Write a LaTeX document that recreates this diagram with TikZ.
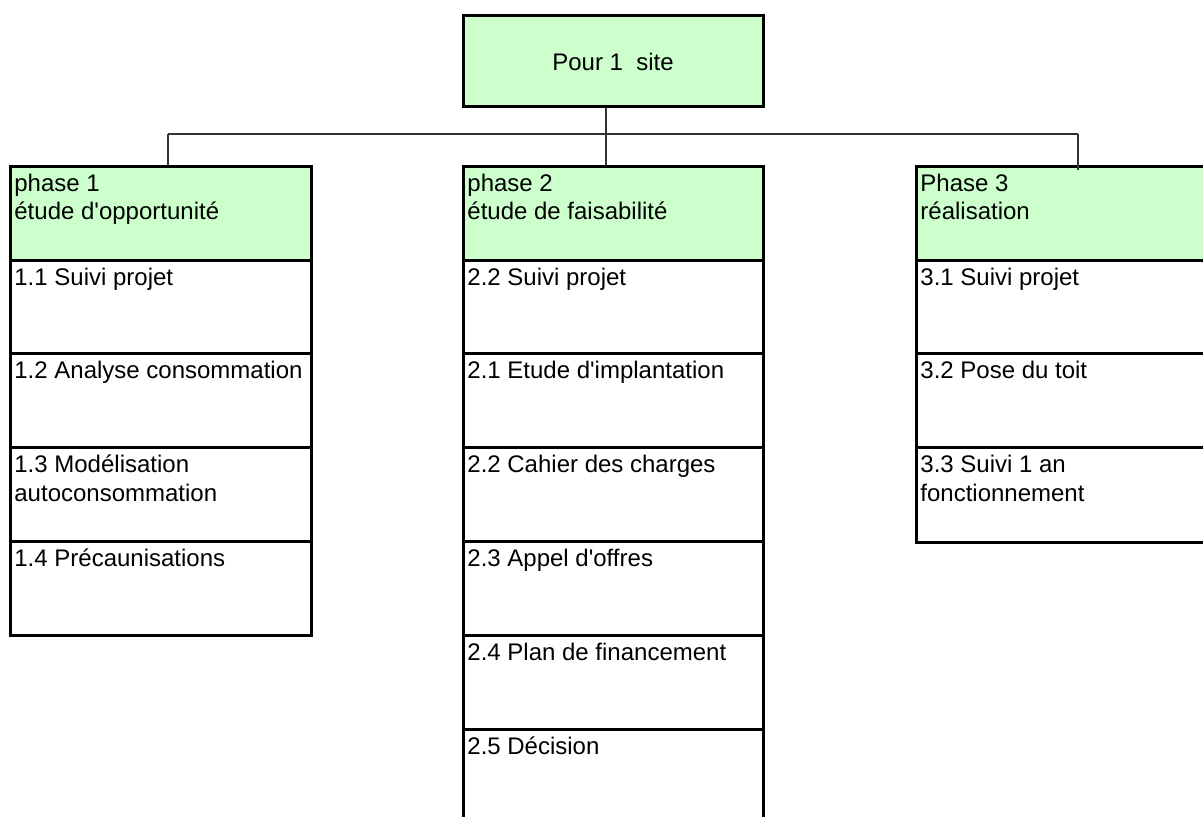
\documentclass[tikz,border=0pt]{standalone}
\usepackage{fontspec}
\newfontfamily\arialfont{Liberation Sans}
\usetikzlibrary{fit,calc}
\definecolor{hdr}{HTML}{CCFFCC}
\definecolor{conn}{HTML}{333333}
\begin{document}
\begin{tikzpicture}[x=0.5pt,y=-0.5pt,
  cell/.style={draw=black, line width=1.5pt, inner sep=0pt, fill=white},
  head/.style={cell, fill=hdr},
  txt/.style={anchor=base west, align=left, inner xsep=1.5pt, inner ysep=0pt,
    font=\arialfont\fontsize{12pt}{14pt}\selectfont, text=black},
  link/.style={draw=conn, line width=0.75pt}]
\useasboundingbox (0,0) rectangle (1203,817);
\clip (0,0) rectangle (1203,817);

% top box
\node[head, fit={(463,16)(763,107)}] (top) {};
\node[anchor=center, inner sep=0pt, font=\arialfont\fontsize{12pt}{14pt}\selectfont] (toptxt) at (top.center) {Pour 1~ site};

% column 1
\node[head, fit={(10,167)(311,261)}] (h1) {};
\node[cell, fit={(10,261)(311,354)}] (a1) {};
\node[cell, fit={(10,354)(311,448)}] (a2) {};
\node[cell, fit={(10,448)(311,541)}] (a3) {};
\node[cell, fit={(10,541)(311,635)}] (a4) {};
\node[txt] (h1t) at (11,220) {phase 1\\étude d'opportunité};
\node[txt] (a1t) at (11,286) {1.1 Suivi projet};
\node[txt] (a2t) at (11,379) {1.2 Analyse consommation};
\node[txt] (a3t) at (11,501) {1.3 Modélisation\\autoconsommation};
\node[txt] (a4t) at (11,566) {1.4 Précaunisations};

% column 2
\node[head, fit={(463,167)(763,261)}] (h2) {};
\node[cell, fit={(463,261)(763,354)}] (b1) {};
\node[cell, fit={(463,354)(763,448)}] (b2) {};
\node[cell, fit={(463,448)(763,541)}] (b3) {};
\node[cell, fit={(463,541)(763,635)}] (b4) {};
\node[cell, fit={(463,635)(763,729)}] (b5) {};
\node[cell, fit={(463,729)(763,840)}] (b6) {};
\node[txt] (h2t) at (464,220) {phase 2\\étude de faisabilité};
\node[txt] (b1t) at (464,286) {2.2 Suivi projet};
\node[txt] (b2t) at (464,379) {2.1 Etude d'implantation};
\node[txt] (b3t) at (464,473) {2.2 Cahier des charges};
\node[txt] (b4t) at (464,566) {2.3 Appel d'offres};
\node[txt] (b5t) at (464,660) {2.4 Plan de financement};
\node[txt] (b6t) at (464,754) {2.5 Décision};

% column 3
\node[head, fit={(916,167)(1220,261)}] (h3) {};
\node[cell, fit={(916,261)(1220,354)}] (c1) {};
\node[cell, fit={(916,354)(1220,448)}] (c2) {};
\node[cell, fit={(916,448)(1220,542)}] (c3) {};
\node[txt] (h3t) at (917,220) {Phase 3\\réalisation};
\node[txt] (c1t) at (917,286) {3.1 Suivi projet};
\node[txt] (c2t) at (917,379) {3.2 Pose du toit};
\node[txt] (c3t) at (917,501) {3.3 Suivi 1 an\\fonctionnement};

% connectors
\coordinate (busL) at (168,134);
\coordinate (busR) at (1078,134);
\coordinate (midT) at (606,108);
\draw[link] (busL) -- (busR);
\draw[link] (busL) -- (busL |- h1.north);
\draw[link] (busR) -- ($(busR |- h3.north)+(0,5)$);
\draw[link] (midT) -- (midT |- h2.north);
\end{tikzpicture}
\end{document}
